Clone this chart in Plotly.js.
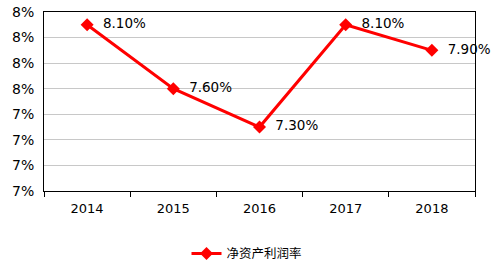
<!DOCTYPE html>
<html>
<head>
<meta charset="utf-8">
<script src="https://cdn.plot.ly/plotly-3.0.1.min.js"></script>
<style>html,body{margin:0;padding:0;background:#fff;}#chart{width:494px;height:269px;}</style>
</head>
<body>
<div id="chart"></div>
<script>
var years = ["2014", "2015", "2016", "2017", "2018"];
var roe = [8.1, 7.6, 7.3, 8.1, 7.9];
var seriesName = "净资产利润率";
var yTickVals = [6.8, 7.0, 7.2, 7.4, 7.6, 7.8, 8.0, 8.2];
var yTickText = ["7%", "7%", "7%", "7%", "8%", "8%", "8%", "8%"];

var trace = {
  x: years,
  y: roe,
  type: "scatter",
  mode: "lines+markers+text",
  name: seriesName,
  line: {color: "#ff0000", width: 3},
  marker: {symbol: "diamond", size: 10, color: "#ff0000"},
  text: roe.map(function(v){ return "\u00a0\u00a0" + v.toFixed(2) + "%"; }),
  textposition: "middle right",
  textfont: {family: "DejaVu Sans, Verdana, sans-serif", size: 13.5, color: "#000"},
  cliponaxis: false,
  hoverinfo: "none"
};

var layout = {
  width: 494,
  height: 269,
  margin: {l: 44, r: 19, t: 12, b: 78},
  paper_bgcolor: "#fff",
  plot_bgcolor: "#fff",
  font: {family: "DejaVu Sans, Verdana, sans-serif", size: 13, color: "#000"},
  showlegend: true,
  legend: {
    orientation: "h",
    xref: "container", yref: "container",
    x: 0.5, xanchor: "center",
    y: 0.056, yanchor: "middle",
    font: {family: "Noto Sans CJK SC, sans-serif", size: 12.5, color: "#000"}
  },
  xaxis: {
    type: "category",
    range: [-0.5, 4.5],
    showline: true, mirror: true, linecolor: "#000", linewidth: 1,
    showgrid: false,
    ticks: "outside", tickson: "boundaries", ticklen: 5, tickcolor: "#000",
    ticklabelstandoff: 5,
    zeroline: false
  },
  yaxis: {
    range: [6.8, 8.2],
    tickmode: "array",
    tickvals: yTickVals,
    ticktext: yTickText,
    showline: true, mirror: true, linecolor: "#000", linewidth: 1,
    showgrid: true, gridcolor: "#c8c8c8", gridwidth: 1,
    ticks: "", zeroline: false,
    ticklabelstandoff: 6,
    tickfont: {size: 14}
  }
};

Plotly.newPlot("chart", [trace], layout, {displayModeBar: false, staticPlot: true});
</script>
</body>
</html>
